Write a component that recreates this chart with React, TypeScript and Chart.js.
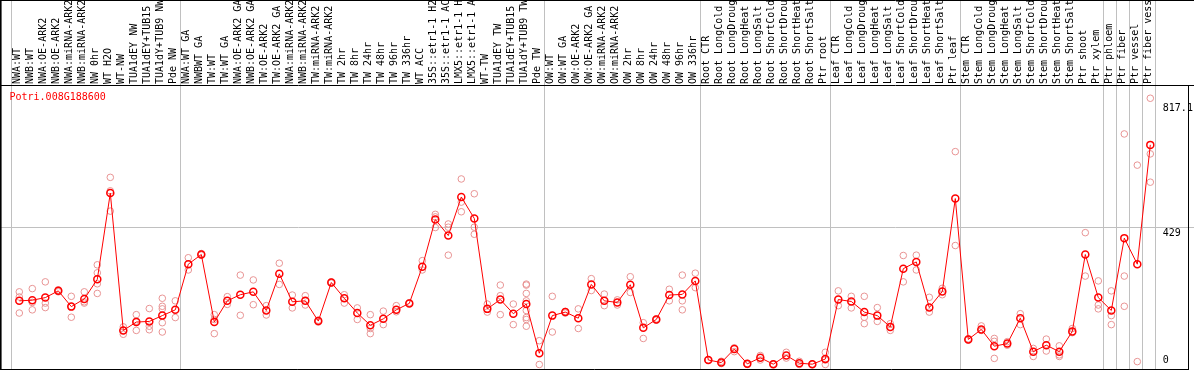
import React, { useEffect, useRef } from 'react';
import { Chart, registerables } from 'chart.js';

Chart.register(...registerables);

const geneTitle = 'Potri.008G188600';

const categories: string[] = [
  'NWA:WT', 'NWB:WT', 'NWA:OE-ARK2', 'NWB:OE-ARK2', 'NWA:miRNA-ARK2', 'NWB:miRNA-ARK2',
  'NW 0hr', 'WT H2O', 'WT-NW', 'TUA1dEY NW', 'TUA1dEY+TUB15 NW', 'TUA1dY+TUB9 NW', 'Pde NW',
  'NWA:WT GA', 'NWBWT GA', 'TW:WT', 'TW:WT GA', 'NWA:OE-ARK2 GA', 'NWB:OE-ARK2 GA',
  'TW:OE-ARK2', 'TW:OE-ARK2 GA', 'NWA:miRNA-ARK2 GA', 'NWB:miRNA-ARK2 GA', 'TW:miRNA-ARK2',
  'TW:miRNA-ARK2 GA', 'TW 2hr', 'TW 8hr', 'TW 24hr', 'TW 48hr', 'TW 96hr', 'TW 336hr',
  'WT ACC', '35S::etr1-1 H2O', '35S::etr1-1 ACC', 'LMX5::etr1-1 H2O', 'LMX5::etr1-1 ACC',
  'WT-TW', 'TUA1dEY TW', 'TUA1dEY+TUB15 TW', 'TUA1dY+TUB9 TW', 'Pde TW',
  'OW:WT', 'OW:WT GA', 'OW:OE-ARK2', 'OW:OE-ARK2 GA', 'OW:miRNA-ARK2', 'OW:miRNA-ARK2 GA',
  'OW 2hr', 'OW 8hr', 'OW 24hr', 'OW 48hr', 'OW 96hr', 'OW 336hr',
  'Root CTR', 'Root LongCold', 'Root LongDrought', 'Root LongHeat', 'Root LongSalt',
  'Root ShortCold', 'Root ShortDrought', 'Root ShortHeat', 'Root ShortSalt', 'Ptr root',
  'Leaf CTR', 'Leaf LongCold', 'Leaf LongDrought', 'Leaf LongHeat', 'Leaf LongSalt',
  'Leaf ShortCold', 'Leaf ShortDrought', 'Leaf ShortHeat', 'Leaf ShortSalt', 'Ptr leaf',
  'Stem CTR', 'Stem LongCold', 'Stem LongDrought', 'Stem LongHeat', 'Stem LongSalt',
  'Stem ShortCold', 'Stem ShortDrought', 'Stem ShortHeat', 'Stem ShortSalt', 'Ptr shoot',
  'Ptr xylem', 'Ptr phloem', 'Ptr fiber', 'Ptr vessel', 'Ptr fiber vessel',
];

const means: number[] = [
  198, 200, 208, 229, 180, 204, 265, 533, 106, 132, 134, 152, 170,
  312, 342, 132, 198, 217, 226, 168, 282, 195, 198, 135, 255, 206, 160, 122, 142, 170, 190,
  304, 451, 401, 521, 454, 173, 202, 158, 188, 35,
  152, 163, 144, 249, 198, 193, 248, 114, 140, 216, 218, 260,
  14, 6, 48, 2, 21, 1, 28, 4, 1, 17,
  202, 196, 163, 152, 117, 298, 319, 177, 227, 516,
  78, 109, 57, 65, 144, 40, 60, 40, 103, 342,
  208, 168, 393, 312, 683,
];

const replicates: number[][] = [
  [226, 210, 160], [236, 193, 170], [257, 191, 177], [232, 226, 229], [212, 180, 147],
  [226, 191, 195], [310, 285, 251, 221], [582, 540, 477], [117, 94, 106], [155, 106, 135],
  [174, 119, 108], [206, 181, 173, 130, 101], [198, 146],
  [332, 294], [345, 340], [155, 140, 96], [211, 187], [278, 153], [263, 186], [183, 154],
  [315, 249], [216, 176], [214, 185], [138, 132], [257, 253], [217, 191], [176, 140],
  [155, 112, 96], [166, 124], [183, 164], [190, 192], [323, 294], [467, 459, 426],
  [437, 427, 340], [577, 505, 475], [531, 427, 405], [188, 163], [247, 214, 155], [188, 124],
  [250, 247, 221, 198, 168, 146, 140, 119], [74, 0],
  [212, 101], [165, 160], [173, 112], [267, 230], [219, 183], [201, 185], [273, 224],
  [130, 81], [142, 138], [234, 198], [278, 198, 170], [284, 239],
  [14, 14], [10, 3], [52, 40], [3, 0], [28, 14], [2, 0], [38, 20], [10, 0], [2, 0], [38, 0, 14],
  [229, 183], [212, 176], [212, 147, 127], [177, 134], [127, 106], [339, 257], [340, 294],
  [209, 163], [237, 217], [662, 370],
  [80, 76], [120, 106], [81, 19, 72], [71, 60], [158, 124], [50, 25], [79, 42], [58, 30, 25],
  [112, 99], [410, 275],
  [260, 185, 173], [229, 152, 124], [717, 275, 181], [620, 9], [828, 655, 567],
];

const yTickValues: number[] = [0, 429, 817.1];
const yAxisMax = 866.1;
const gridValue = 429;
// category indices where a new sample group starts (separator lines)
const groupBreaks: number[] = [0, 13, 41, 53, 63, 73, 84, 85, 86, 87, 88];

const MONO = '"DejaVu Sans Mono", "Liberation Mono", monospace';

const framePlugin = {
  id: 'framePlugin',
  beforeDatasetsDraw(chart: any) {
    const { ctx, width, height } = chart;
    const x = chart.scales.x;
    const y = chart.scales.y;
    ctx.save();
    ctx.strokeStyle = '#c0c0c0';
    ctx.lineWidth = 1;
    const gy = Math.round(y.getPixelForValue(gridValue)) + 0.5;
    ctx.beginPath();
    ctx.moveTo(0, gy);
    ctx.lineTo(width, gy);
    ctx.stroke();
    for (const b of groupBreaks) {
      const px = Math.round(x.getPixelForValue(b - 0.5) - 1.5) + 0.5;
      ctx.beginPath();
      ctx.moveTo(px, 0);
      ctx.lineTo(px, height);
      ctx.stroke();
    }
    ctx.restore();
  },
  afterDraw(chart: any) {
    const { ctx, width, height, chartArea } = chart;
    ctx.save();
    ctx.strokeStyle = '#000000';
    ctx.lineWidth = 1;
    const hy = Math.round(chartArea.top) - 0.5;
    const rx = width - 5.5;
    ctx.beginPath();
    ctx.moveTo(0, 0.5);
    ctx.lineTo(width, 0.5);
    ctx.moveTo(0, hy);
    ctx.lineTo(width, hy);
    ctx.moveTo(0, height - 0.5);
    ctx.lineTo(rx, height - 0.5);
    ctx.moveTo(rx, hy);
    ctx.lineTo(rx, height);
    ctx.stroke();
    ctx.lineWidth = 1.6;
    ctx.beginPath();
    ctx.moveTo(0.8, 0);
    ctx.lineTo(0.8, height);
    ctx.stroke();
    ctx.fillStyle = '#ff0000';
    ctx.font = '10px ' + MONO;
    ctx.textBaseline = 'top';
    ctx.textAlign = 'left';
    ctx.fillText(geneTitle, 9.5, chartArea.top + 6);
    ctx.restore();
  },
};

export default function App() {
  const canvasRef = useRef<HTMLCanvasElement | null>(null);

  useEffect(() => {
    const canvas = canvasRef.current;
    if (!canvas) return;
    const repPoints: { x: string; y: number }[] = [];
    replicates.forEach((reps, i) => reps.forEach((v) => repPoints.push({ x: categories[i], y: v })));

    const chart = new Chart(canvas, {
      type: 'line',
      data: {
        labels: categories,
        datasets: [
          {
            label: 'mean',
            data: means,
            borderColor: '#ff0000',
            borderWidth: 1,
            pointRadius: 3.5,
            pointBorderWidth: 1.5,
            pointBorderColor: '#ff0000',
            pointBackgroundColor: 'rgba(0,0,0,0)',
            tension: 0,
            clip: false as any,
          },
          {
            label: 'replicates',
            data: repPoints as any,
            showLine: false,
            pointRadius: 3.3,
            pointBorderWidth: 1,
            pointBorderColor: '#e89494',
            pointBackgroundColor: 'rgba(0,0,0,0)',
            clip: false as any,
          },
        ],
      },
      options: {
        animation: false,
        responsive: false,
        devicePixelRatio: 1,
        events: [],
        layout: { padding: { left: 12.8, right: 0, top: 0, bottom: 1.5 } },
        plugins: {
          legend: { display: false },
          tooltip: { enabled: false },
          title: { display: false },
        },
        scales: {
          x: {
            type: 'category',
            position: 'top',
            offset: true,
            grid: { display: false, drawTicks: false },
            border: { display: false },
            afterFit: (s: any) => {
              s.height = 86;
              s.paddingLeft = 0;
              s.paddingRight = 0;
            },
            ticks: {
              autoSkip: false,
              minRotation: 90,
              maxRotation: 90,
              padding: 2,
              labelOffset: 1,
              color: '#000000',
              font: { family: MONO, size: 10, lineHeight: '3px' },
            },
          },
          y: {
            type: 'linear',
            position: 'right',
            min: 0,
            max: yAxisMax,
            grid: { display: false, drawTicks: false },
            border: { display: false },
            afterBuildTicks: (s: any) => {
              s.ticks = yTickValues.map((v) => ({ value: v }));
            },
            afterFit: (s: any) => {
              s.width = 37.2;
              s.paddingTop = 0;
              s.paddingBottom = 0;
            },
            ticks: {
              padding: 6,
              labelOffset: 7,
              color: '#000000',
              font: (c: any) => ({
                family: MONO,
                size: 10,
                lineHeight: c.tick && c.tick.value === 0 ? '22px' : '12px',
              }),
              callback: (v: any) => (Number(v) === 0 ? ['0', ''] : String(v)),
            },
          },
        },
      },
      plugins: [framePlugin],
    } as any);

    return () => {
      chart.destroy();
    };
  }, []);

  return (
    <div style={{ position: 'absolute', left: 0, top: 0, width: 1194, height: 370, background: '#ffffff' }}>
      <canvas ref={canvasRef} width={1194} height={370} />
    </div>
  );
}
